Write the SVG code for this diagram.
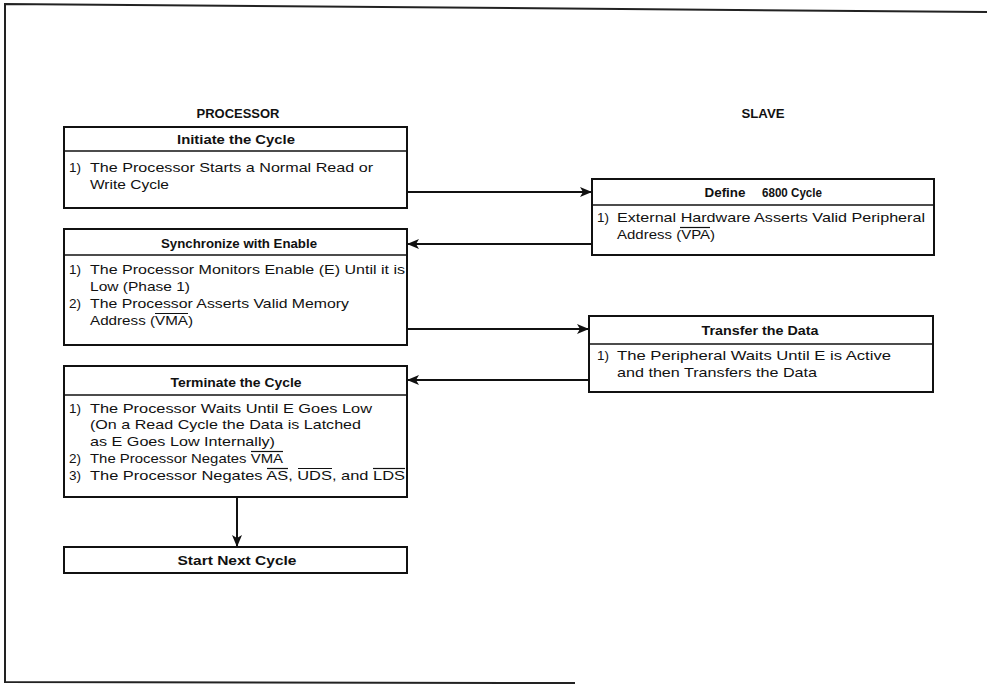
<svg xmlns="http://www.w3.org/2000/svg" width="987" height="686" viewBox="0 0 987 686">
<defs>
<marker id="ah" viewBox="0 0 12 10" refX="12" refY="5" markerWidth="12" markerHeight="10" markerUnits="userSpaceOnUse" orient="auto">
<path d="M0,0 L12,5 L0,10 L3,5 Z" fill="#111"/>
</marker>
<style>
.box{fill:#fff;stroke:#111;stroke-width:2}
.div{stroke:#111;stroke-width:1.5}
.t{font-family:"Liberation Sans",Arial,sans-serif;font-size:12.5px;font-weight:bold;fill:#111;text-anchor:middle}
.h{font-family:"Liberation Sans",Arial,sans-serif;font-size:13px;font-weight:bold;fill:#111;text-anchor:middle}
.b{font-family:"Liberation Sans",Arial,sans-serif;font-size:13.5px;fill:#111}
.ov{stroke:#111;stroke-width:1.2}
.c{fill:none;stroke:#111;stroke-width:2;marker-end:url(#ah)}
.f{fill:none;stroke:#222;stroke-width:2}
</style>
</defs>
<rect width="987" height="686" fill="#fff"/>
<g id="frame">
<path class="f" d="M987,12 L5,4 L5,682 L575,683"/>
</g>
<g id="headers">
<text class="h" x="238" y="118" textLength="83" lengthAdjust="spacingAndGlyphs">PROCESSOR</text>
<text class="h" x="763" y="118" textLength="43" lengthAdjust="spacingAndGlyphs">SLAVE</text>
</g>
<g id="connectors">
<line class="c" x1="407" y1="192" x2="592" y2="192"/>
<line class="c" x1="592" y1="244" x2="407" y2="244"/>
<line class="c" x1="407" y1="329" x2="589" y2="329"/>
<line class="c" x1="589" y1="380" x2="407" y2="380"/>
<line class="c" x1="237" y1="497" x2="237" y2="547"/>
</g>
<g id="initiate">
<rect class="box" x="64" y="127" width="343" height="81"/>
<line class="div" x1="64" y1="151" x2="407" y2="151"/>
<text class="t" x="236" y="144" textLength="118" lengthAdjust="spacingAndGlyphs">Initiate the Cycle</text>
<text class="b" x="69" y="172">1)</text>
<text class="b" x="90" y="172" textLength="283" lengthAdjust="spacingAndGlyphs">The Processor Starts a Normal Read or</text>
<text class="b" x="90" y="189" textLength="79" lengthAdjust="spacingAndGlyphs">Write Cycle</text>
</g>
<g id="define">
<rect class="box" x="592" y="179" width="342" height="76"/>
<line class="div" x1="592" y1="205" x2="934" y2="205"/>
<text class="t" x="725" y="197" textLength="41" lengthAdjust="spacingAndGlyphs">Define</text>
<text class="t" x="792" y="197" textLength="60" lengthAdjust="spacingAndGlyphs">6800 Cycle</text>
<text class="b" x="597" y="222">1)</text>
<text class="b" x="617" y="222" textLength="308" lengthAdjust="spacingAndGlyphs">External Hardware Asserts Valid Peripheral</text>
<text class="b" x="617" y="239" textLength="98" lengthAdjust="spacingAndGlyphs">Address (VPA)</text>
<line class="ov" x1="680" y1="227.5" x2="710" y2="227.5"/>
</g>
<g id="synchronize">
<rect class="box" x="64" y="229" width="343" height="116"/>
<line class="div" x1="64" y1="255" x2="407" y2="255"/>
<text class="t" x="239" y="248" textLength="156" lengthAdjust="spacingAndGlyphs">Synchronize with Enable</text>
<text class="b" x="69" y="274">1)</text>
<text class="b" x="90" y="274" textLength="315" lengthAdjust="spacingAndGlyphs">The Processor Monitors Enable (E) Until it is</text>
<text class="b" x="90" y="291" textLength="100" lengthAdjust="spacingAndGlyphs">Low (Phase 1)</text>
<text class="b" x="69" y="308">2)</text>
<text class="b" x="90" y="308" textLength="259" lengthAdjust="spacingAndGlyphs">The Processor Asserts Valid Memory</text>
<text class="b" x="90" y="325" textLength="103" lengthAdjust="spacingAndGlyphs">Address (VMA)</text>
<line class="ov" x1="155" y1="313.5" x2="188" y2="313.5"/>
</g>
<g id="transfer">
<rect class="box" x="589" y="316" width="344" height="76"/>
<line class="div" x1="589" y1="344" x2="933" y2="344"/>
<text class="t" x="760" y="335" textLength="117" lengthAdjust="spacingAndGlyphs">Transfer the Data</text>
<text class="b" x="597" y="360">1)</text>
<text class="b" x="617" y="360" textLength="274" lengthAdjust="spacingAndGlyphs">The Peripheral Waits Until E is Active</text>
<text class="b" x="617" y="377" textLength="200" lengthAdjust="spacingAndGlyphs">and then Transfers the Data</text>
</g>
<g id="terminate">
<rect class="box" x="64" y="366" width="343" height="131"/>
<line class="div" x1="64" y1="395" x2="407" y2="395"/>
<text class="t" x="236" y="387" textLength="131" lengthAdjust="spacingAndGlyphs">Terminate the Cycle</text>
<text class="b" x="69" y="413">1)</text>
<text class="b" x="90" y="413" textLength="282" lengthAdjust="spacingAndGlyphs">The Processor Waits Until E Goes Low</text>
<text class="b" x="90" y="429" textLength="271" lengthAdjust="spacingAndGlyphs">(On a Read Cycle the Data is Latched</text>
<text class="b" x="90" y="446" textLength="185" lengthAdjust="spacingAndGlyphs">as E Goes Low Internally)</text>
<text class="b" x="69" y="463">2)</text>
<text class="b" x="90" y="463" textLength="193" lengthAdjust="spacingAndGlyphs">The Processor Negates VMA</text>
<line class="ov" x1="251" y1="451.5" x2="283" y2="451.5"/>
<text class="b" x="69" y="480">3)</text>
<text class="b" x="90" y="480" textLength="315" lengthAdjust="spacingAndGlyphs">The Processor Negates AS, UDS, and LDS</text>
<line class="ov" x1="267" y1="468.5" x2="288" y2="468.5"/>
<line class="ov" x1="298" y1="468.5" x2="332" y2="468.5"/>
<line class="ov" x1="373" y1="468.5" x2="405" y2="468.5"/>
</g>
<g id="start">
<rect class="box" x="64" y="547" width="343" height="26"/>
<text class="t" x="237" y="565" textLength="119" lengthAdjust="spacingAndGlyphs">Start Next Cycle</text>
</g>
</svg>
